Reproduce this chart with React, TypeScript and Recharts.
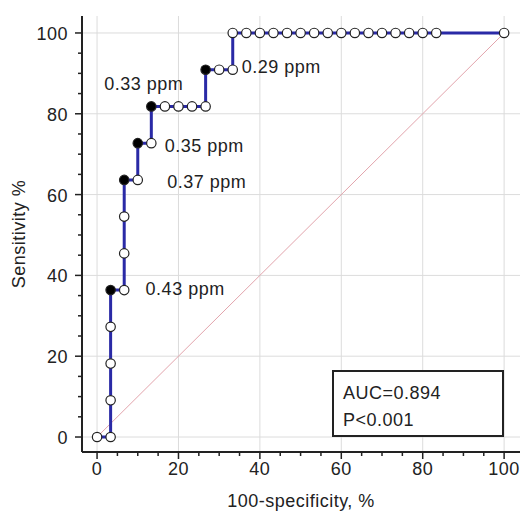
import { ComposedChart, Line, XAxis, YAxis, ReferenceLine } from "recharts";

// ROC curve points, in order
const fpr = [
  0, 3.33, 3.33, 3.33, 3.33, 3.33, 6.67, 6.67, 6.67, 6.67, 10, 10, 13.33, 13.33,
  16.67, 20, 23.33, 26.67, 26.67, 30, 33.33, 33.33, 36.67, 40, 43.33, 46.67, 50,
  53.33, 56.67, 60, 63.33, 66.67, 70, 73.33, 76.67, 80, 83.33, 100,
];
const sensitivity = [
  0, 0, 9.09, 18.18, 27.27, 36.36, 36.36, 45.45, 54.55, 63.64, 63.64, 72.73, 72.73,
  81.82, 81.82, 81.82, 81.82, 81.82, 90.91, 90.91, 90.91, 100, 100, 100, 100, 100,
  100, 100, 100, 100, 100, 100, 100, 100, 100, 100, 100, 100,
];
// cut-off points (index into the curve) and their labels
const cutoffIndex = [5, 9, 11, 13, 18];
const cutoffLabels = ["0.43 ppm", "0.37 ppm", "0.35 ppm", "0.33 ppm", "0.29 ppm"];

const axisTicks = [0, 5, 10, 15, 20, 25, 30, 35, 40, 45, 50, 55, 60, 65, 70, 75, 80, 85, 90, 95, 100];
const gridTicks = [0, 20, 40, 60, 80, 100];

const aucText = "AUC=0.894";
const pText = "P<0.001";

const FONT = '"Liberation Sans", Arial, sans-serif';
const FS = 18;
const LS = 0.5;
const INK = "#222";
const LINE_BLUE = "#2a2aa6";
const GRID = "#dcdcdc";
const DIAG = "#e2a4ac";

// label offsets from their filled point (px)
const LABEL_OFFSET: Record<string, [number, number]> = {
  "0.43 ppm": [35, 5],
  "0.37 ppm": [43, 8],
  "0.35 ppm": [27, 9],
  "0.33 ppm": [-47, -16],
  "0.29 ppm": [36, 3],
};

const data = fpr.map((x, i) => {
  const c = cutoffIndex.indexOf(i);
  return { x, y: sensitivity[i], cutoff: c >= 0 ? cutoffLabels[c] : null };
});

const YTick = (props: any) => {
  const { x, y, payload } = props;
  const major = payload.value % 20 === 0;
  return (
    <g>
      <line x1={x - (major ? 7 : 4)} x2={x} y1={y} y2={y} stroke={INK} strokeWidth={1.5} />
      {major && (
        <text x={x - 14} y={y + 7} textAnchor="end" fontSize={FS} letterSpacing={LS} fontFamily={FONT} fill={INK}>
          {payload.value}
        </text>
      )}
    </g>
  );
};

const XTick = (props: any) => {
  const { x, y, payload } = props;
  const major = payload.value % 20 === 0;
  return (
    <g>
      <line x1={x} x2={x} y1={y} y2={y + (major ? 7 : 4)} stroke={INK} strokeWidth={1.5} />
      {major && (
        <text x={x} y={y + 23} textAnchor="middle" fontSize={FS} letterSpacing={LS} fontFamily={FONT} fill={INK}>
          {payload.value}
        </text>
      )}
    </g>
  );
};

const RocDot = (props: any) => {
  const { cx, cy, index, payload } = props;
  const label = payload.cutoff;
  const off = label ? LABEL_OFFSET[label] : null;
  return (
    <g key={`dot-${index}`}>
      <circle cx={cx} cy={cy} r={4.7} fill={label ? "#000" : "#fff"} stroke="#222" strokeWidth={1.2} />
      {label && off && (
        <text x={cx + off[0]} y={cy + off[1]} fontSize={FS} letterSpacing={LS} fontFamily={FONT} fill={INK}>
          {label}
        </text>
      )}
    </g>
  );
};

export default function App() {
  return (
    <div style={{ position: "absolute", left: 0, top: 0, width: 520, height: 511, background: "#fff" }}>
      <ComposedChart width={520} height={511} data={data} margin={{ top: 16, right: 0, bottom: 0, left: 0 }}>
        {gridTicks.map((v) => (
          <ReferenceLine key={`gx-${v}`} x={v} stroke={GRID} strokeWidth={1} />
        ))}
        {gridTicks.map((v) => (
          <ReferenceLine key={`gy-${v}`} y={v} stroke={GRID} strokeWidth={1} />
        ))}
        <ReferenceLine
          segment={[{ x: 0, y: 0 }, { x: 100, y: 100 }]}
          stroke={DIAG}
          strokeWidth={1}
        />
        <XAxis
          dataKey="x"
          type="number"
          domain={[-3.7, 103.9]}
          allowDataOverflow
          ticks={axisTicks}
          interval={0}
          tickSize={0}
          tickMargin={0}
          tickLine={false}
          tick={<XTick />}
          height={59}
          axisLine={{ stroke: INK, strokeWidth: 2 }}
          label={{
            value: "100-specificity, %",
            position: "insideBottom",
            offset: 4,
            style: { fontSize: FS, letterSpacing: LS, fontFamily: FONT, fill: INK },
          }}
        />
        <YAxis
          dataKey="y"
          type="number"
          domain={[-3.71, 104.2]}
          allowDataOverflow
          ticks={axisTicks}
          interval={0}
          tickSize={0}
          tickMargin={0}
          tickLine={false}
          tick={<YTick />}
          width={82}
          axisLine={{ stroke: INK, strokeWidth: 2 }}
          label={{
            value: "Sensitivity %",
            angle: -90,
            position: "insideLeft",
            offset: 19,
            style: { fontSize: FS, letterSpacing: LS, fontFamily: FONT, fill: INK, textAnchor: "middle" },
          }}
        />
        <Line
          dataKey="y"
          type="linear"
          stroke={LINE_BLUE}
          strokeWidth={3}
          dot={RocDot}
          activeDot={false}
          isAnimationActive={false}
        />
      </ComposedChart>
      <div
        style={{
          position: "absolute",
          left: 332,
          top: 370,
          width: 172,
          height: 67,
          boxSizing: "border-box",
          border: `2px solid ${INK}`,
          background: "#fff",
          fontFamily: FONT,
          fontSize: FS,
          letterSpacing: LS,
          color: INK,
          padding: "8px 0 0 9px",
          lineHeight: "27px",
        }}
      >
        <div>{aucText}</div>
        <div>{pText}</div>
      </div>
    </div>
  );
}
